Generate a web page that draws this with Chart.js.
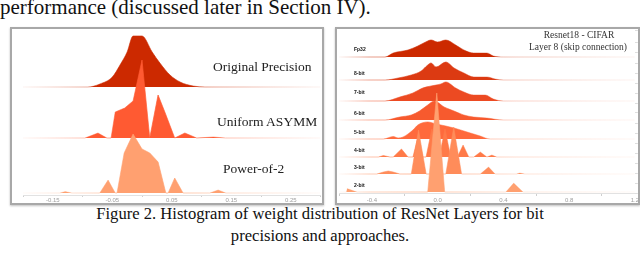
<!DOCTYPE html>
<html>
<head>
<meta charset="utf-8">
<title>Histogram of weight distribution</title>
<script src="https://cdn.jsdelivr.net/npm/chart.js@4.4.1/dist/chart.umd.min.js"></script>
<style>
    html, body { margin: 0; padding: 0; background: #fff; }
    body { width: 640px; height: 258px; position: relative; overflow: hidden; font-family: "Liberation Serif", serif; }
    .abs { position: absolute; white-space: nowrap; }
    .box { position: absolute; box-sizing: border-box; border: 2px solid #a8a8a8; box-shadow: 0 1px 2px rgba(0,0,0,0.25); }
    #topline { left: 0; top: -3.5px; font-size: 21px; line-height: 21px; color: #111; }
    .caption { left: 0; width: 640px; text-align: center; font-size: 16.6px; line-height: 16.6px; color: #111; }
    .lbl { font-size: 13.5px; line-height: 13.5px; color: #222; }
    .bitlbl { font-family: "Liberation Sans", sans-serif; font-weight: bold; font-size: 5px; line-height: 5px; color: #111; }
    .title { font-size: 9.5px; line-height: 9.5px; color: #333; transform: translateX(-50%); }
</style>
</head>
<body>
<div id="topline" class="abs">performance (discussed later in Section IV).</div>
<div class="box" style="left:10px;top:27px;width:314px;height:178px"></div>
<div class="box" style="left:335px;top:27px;width:305px;height:178px"></div>
<canvas id="left-chart" class="abs" width="310" height="175" style="left:12px;top:29px"></canvas>
<canvas id="right-chart" class="abs" width="303" height="175" style="left:337px;top:29px"></canvas>
<div class="abs title" style="left:579px;top:30.5px">Resnet18 - CIFAR</div>
<div class="abs title" style="left:578px;top:43px">Layer 8 (skip connection)</div>
<div class="abs caption" style="top:206px">Figure 2. Histogram of weight distribution of ResNet Layers for bit</div>
<div class="abs caption" style="top:228px">precisions and approaches.</div>
<script>
// Left panel: weight value (x) and ridge height
const leftNames = ["Original Precision", "Uniform ASYMM", "Power-of-2"];
const origX = [-0.2, -0.091, -0.071, -0.050, -0.037, -0.025, -0.015, 0.0, 0.017, 0.030, 0.047, 0.064, 0.086, 0.106, 0.3];
const origH = [0, 0, 3, 10, 22, 35, 51, 51, 35, 24, 12, 5, 1, 0, 0];
const unifX = [-0.2, -0.096, -0.074, -0.059, -0.052, -0.045, -0.029, -0.015, 0.0, 0.013, 0.027, 0.039, 0.055, 0.072, 0.092, 0.12, 0.14, 0.3];
const unifH = [0, 0, 5, 0, 0, 26, 30, 37, 78, 0, 43, 25, 0, 5, 0, 1, 0, 0];
const powX = [-0.2, -0.138, -0.129, -0.118, -0.071, -0.057, -0.045, -0.042, -0.030, -0.015, 0.0, 0.013, 0.027, 0.040, 0.044, 0.055, 0.069, 0.114, 0.128, 0.141, 0.3];
const powH = [0, 0, 1.5, 0, 0, 13, 0, 0, 40, 59, 44, 40, 31, 0, 0, 15, 0, 0, 3, 0, 0];

// Right panel: Resnet18 layer 8 per bit width
const bitNames = ["Fp32", "8-bit", "7-bit", "6-bit", "5-bit", "4-bit", "3-bit", "2-bit"];
const fp32X = [-0.6, -0.32, -0.27, -0.18, -0.12, -0.06, -0.04, 0.0, 0.05, 0.11, 0.16, 0.22, 0.30, 0.34, 0.40, 1.2];
const fp32H = [0, 0, 4, 7, 11, 16, 17, 15, 17, 12, 7, 4, 4, 1, 0, 0];
const bit8X = [-0.6, -0.32, -0.24, -0.16, -0.10, -0.06, -0.04, -0.01, 0.05, 0.10, 0.16, 0.22, 0.30, 0.35, 0.40, 1.2];
const bit8H = [0, 0, 2, 5, 9, 15, 17, 13, 18, 12, 7, 3, 3, 1, 0, 0];
const bit7X = [-0.6, -0.32, -0.23, -0.15, -0.09, -0.04, 0.02, 0.05, 0.11, 0.16, 0.22, 0.29, 0.34, 0.40, 1.2];
const bit7H = [0, 0, 4, 8, 13, 15, 17, 19, 13, 9, 6, 6, 2, 0, 0];
const bit6X = [-0.6, -0.32, -0.23, -0.16, -0.11, -0.06, -0.02, 0.04, 0.10, 0.16, 0.22, 0.30, 0.40, 1.2];
const bit6H = [0, 0, 3, 5, 9, 15, 19, 13, 9, 5, 3, 2, 0, 0];
const bit5X = [-0.6, -0.33, -0.27, -0.24, -0.21, -0.15, -0.12, -0.06, -0.01, 0.05, 0.10, 0.18, 0.26, 0.32, 1.2];
const bit5H = [0, 0, 2.5, 1, 2, 9, 14, 17, 15, 13, 11, 7, 3, 0, 0];
const bit4X = [-0.6, -0.36, -0.33, -0.29, -0.27, -0.22, -0.18, -0.15, -0.12, -0.09, -0.07, -0.035, 0.0, 0.01, 0.045, 0.08, 0.12, 0.155, 0.19, 0.22, 0.26, 0.30, 0.33, 0.36, 1.2];
const bit4H = [0, 0, 1.5, 0, 0, 8, 0, 0, 20, 0, 0, 28, 0, 0, 28, 0, 0, 12, 0, 0, 5, 0, 2, 0, 0];
const bit3X = [-0.6, -0.37, -0.33, -0.30, -0.27, -0.23, -0.16, -0.116, -0.07, 0.05, 0.098, 0.146, 0.26, 0.31, 0.35, 0.48, 0.50, 0.53, 1.2];
const bit3H = [0, 0, 2, 3, 2, 0, 0, 44, 0, 0, 47, 0, 0, 7, 0, 0, 1, 0, 0];
const bit2X = [-0.6, -0.555, -0.55, -0.49, -0.06, -0.005, 0.043, 0.415, 0.463, 0.52, 1.2];
const bit2H = [0, 0, 3.5, 0, 0, 99, 0, 0, 9, 0, 0];

// layout: baseline of every ridge (chart units = pixels above the axis) and colours
const leftBase = [108, 57, 2];
const leftColors = ["#cc2900", "#ff5a32", "#ffa070"];
const rightBase = [136, 113, 92, 73, 54, 36, 19, 1];
const rightColors = ["#cc2900", "#dc3a12", "#ec4a22", "#f75a2e", "#ff6a3c", "#ff7a48", "#ff8c5a", "#ffa070"];

function rgba(hex, a) {
    const n = parseInt(hex.slice(1), 16);
    return `rgba(${n >> 16},${(n >> 8) & 255},${n & 255},${a})`;
}

// faint tail line that fades towards both ends
function tail(hex, stops) {
    return ctx => {
        const area = ctx.chart.chartArea;
        if (!area) return rgba(hex, 0.4);
        const g = ctx.chart.ctx.createLinearGradient(area.left, 0, area.right, 0);
        stops.forEach(s => g.addColorStop(s[0], rgba(hex, s[1])));
        return g;
    };
}

function ridge(label, xs, hs, base, color, i, smooth, stops) {
    return {
        label,
        data: xs.map((x, k) => ({ x, y: base + hs[k] })),
        fill: { value: base },
        backgroundColor: color,
        borderColor: tail(color, stops),
        borderWidth: 1,
        pointRadius: 0,
        tension: smooth ? 0.4 : 0,
        cubicInterpolationMode: smooth ? "monotone" : "default",
        order: -i
    };
}

const tickFont = { family: "Liberation Sans", size: 6 };
const noColor = "rgba(0,0,0,0)";

const leftStops = [[0, 0.06], [0.3, 0.5], [0.45, 0.7], [0.65, 0.4], [1, 0.06]];
const leftSeries = [[origX, origH, true], [unifX, unifH, false], [powX, powH, false]];

new Chart(document.getElementById("left-chart"), {
    type: "line",
    data: {
        datasets: leftSeries.map((s, i) => ridge(leftNames[i], s[0], s[1], leftBase[i], leftColors[i], i, s[2], leftStops))
    },
    options: {
        responsive: false,
        animation: false,
        layout: { padding: { left: 11, right: 1.5, top: 1, bottom: 0 } },
        plugins: { legend: { display: false }, tooltip: { enabled: false } },
        scales: {
            x: {
                type: "linear", min: -0.2, max: 0.3,
                ticks: {
                    stepSize: 0.05, autoSkip: false, maxRotation: 0, padding: 0,
                    color: "#a0a0a0", font: tickFont,
                    callback: (v, i) => i % 2 ? v.toFixed(2) : ""
                },
                grid: { drawOnChartArea: false, tickLength: 2, color: c => c.index % 2 ? noColor : "#cfcfcf" },
                border: { color: "#e2e2e2" },
                afterFit: s => { s.height = 9; }
            },
            y: { display: false, min: 0, max: 165 }
        }
    }
});

const rightStops = [[0, 0.05], [0.1, 0.45], [0.3, 0.6], [0.6, 0.25], [1, 0.06]];
const rightSeries = [
    [fp32X, fp32H, true], [bit8X, bit8H, true], [bit7X, bit7H, true], [bit6X, bit6H, true],
    [bit5X, bit5H, true], [bit4X, bit4H, false], [bit3X, bit3H, false], [bit2X, bit2H, false]
];

new Chart(document.getElementById("right-chart"), {
    type: "line",
    data: {
        datasets: rightSeries.map((s, i) => ridge(bitNames[i], s[0], s[1], rightBase[i], rightColors[i], i, s[2], rightStops))
    },
    options: {
        responsive: false,
        animation: false,
        layout: { padding: { left: 2, right: 0, top: 1, bottom: 0 } },
        plugins: { legend: { display: false }, tooltip: { enabled: false } },
        scales: {
            x: {
                type: "linear", min: -0.6, max: 1.2,
                ticks: {
                    stepSize: 0.2, autoSkip: false, maxRotation: 0, padding: 1,
                    color: "#a0a0a0", font: tickFont,
                    callback: (v, i) => i % 2 ? (Math.abs(v) < 1e-9 ? "0.0" : v.toFixed(1)) : ""
                },
                grid: { drawOnChartArea: false, tickLength: 3, color: c => c.index % 2 ? noColor : "#cfcfcf" },
                border: { color: "#e2e2e2" },
                afterFit: s => { s.height = 11; }
            },
            y: {
                position: "right", min: 0, max: 163,
                ticks: { display: false, stepSize: 10 },
                grid: { drawOnChartArea: false, tickLength: 3, color: "#dedede" },
                border: { display: false },
                afterFit: s => { s.width = 5; }
            }
        }
    }
});

// ridge names as page text
const leftLabelPos = [[213, 59.7], [217, 115.4], [223, 162]];
leftNames.forEach((t, i) => {
    const d = document.createElement("div");
    d.className = "abs lbl";
    d.style.left = leftLabelPos[i][0] + "px";
    d.style.top = leftLabelPos[i][1] + "px";
    d.textContent = t;
    document.body.appendChild(d);
});

const bitLabelY = [49, 73, 92, 113, 132, 150, 167, 185];
bitNames.forEach((t, i) => {
    const d = document.createElement("div");
    d.className = "abs bitlbl";
    d.style.left = "354px";
    d.style.top = (bitLabelY[i] - 2.5) + "px";
    d.textContent = t;
    document.body.appendChild(d);
});
</script>
</body>
</html>
